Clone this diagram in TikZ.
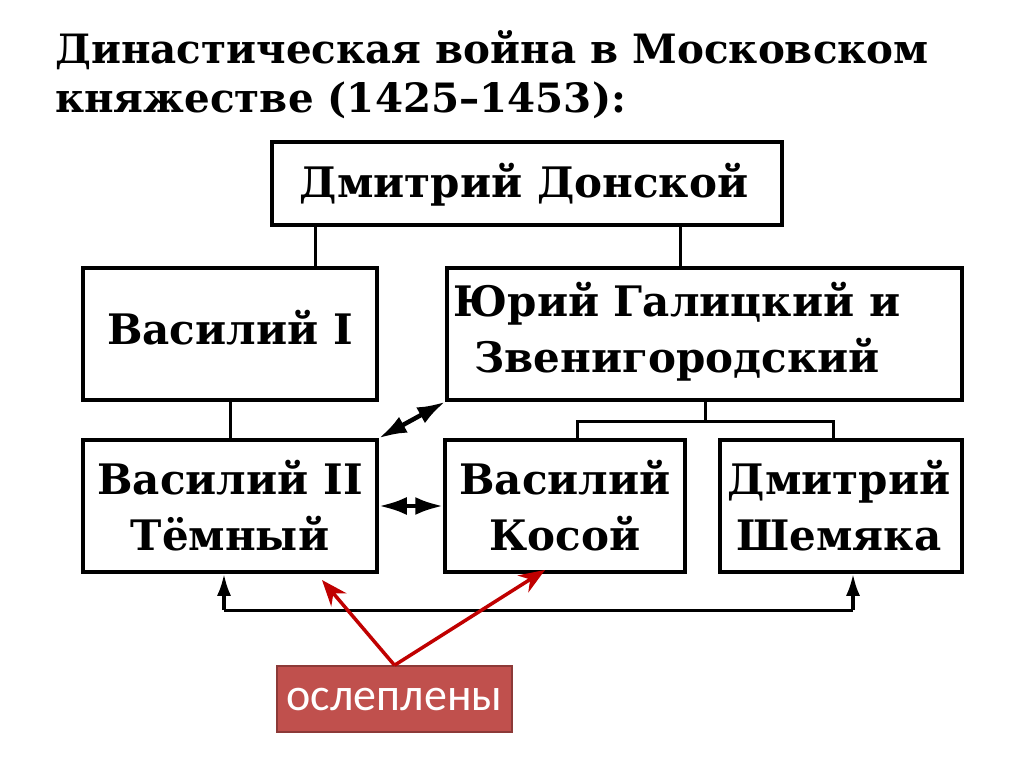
\documentclass[tikz,border=0pt]{standalone}
\usepackage{fontspec}
\setmainfont{DejaVu Serif}
\newfontfamily\redfont{Carlito}
\usetikzlibrary{arrows.meta}
\definecolor{boxred}{HTML}{C0504D}
\definecolor{boxredline}{HTML}{8C3A38}
\definecolor{arrowred}{HTML}{C00000}
\tikzset{
  famillybox/.style={draw=black, line width=3.5pt, minimum width=#1, inner sep=0pt},
  boxtext/.style={font=\fontsize{42}{56}\selectfont\bfseries, align=center, inner sep=0pt},
  titletext/.style={font=\fontsize{40.4}{48}\selectfont\bfseries, anchor=base west, inner sep=0pt},
  link/.style={line width=3pt},
  dbl/.style={line width=4.5pt, {Latex[length=28pt,width=18pt]}-{Latex[length=28pt,width=18pt]}},
  uparrow/.style={line width=3.5pt, -{Latex[length=22pt,width=14pt]}},
  redarrow/.style={draw=arrowred, line width=3.5pt, -{Stealth[length=26pt,width=20pt]}},
}
\begin{document}
\begin{tikzpicture}[x=1pt,y=-1pt]
\useasboundingbox (0,0) rectangle (1024,767);
\fill[white] (0,0) rectangle (1024,767);
% title
\node[titletext] (t1) at (55,64) {Династическая война в Московском};
\node[titletext] (t2) at (55,113) {княжестве (1425–1453):};
% boxes
\node[famillybox=510pt, minimum height=83pt] (dd) at (527,183.5) {};
\node[famillybox=294pt, minimum height=132pt] (v1) at (230,334) {};
\node[famillybox=515pt, minimum height=132pt] (yg) at (704.5,334) {};
\node[famillybox=294pt, minimum height=132pt] (v2) at (230,506) {};
\node[famillybox=240pt, minimum height=132pt] (vk) at (565,506) {};
\node[famillybox=242pt, minimum height=132pt] (ds) at (841,506) {};
% texts
\node[boxtext] at (524,185) {Дмитрий Донской};
\node[boxtext] at (230,328) {Василий I};
\node[boxtext] at (677,332) {Юрий Галицкий и\\Звенигородский};
\node[boxtext] at (230,506) {Василий II\\Тёмный};
\node[boxtext] at (565,506) {Василий\\Косой};
\node[boxtext] at (839,506) {Дмитрий\\Шемяка};
% red label
\node[fill=boxred, draw=boxredline, line width=1.5pt, minimum width=235pt, minimum height=66pt, inner sep=0pt,
  text=white, font=\redfont\fontsize{46}{50}\selectfont] (bl) at (394.5,699) {ослеплены};
% tree links
\draw[link] (dd.south -| 315,0) -- (v1.north -| 315,0);
\draw[link] (dd.south -| 680,0) -- (yg.north -| 680,0);
\draw[link] (v1.south) -- (v2.north);
\coordinate (fork) at (705,421);
\draw[link] (yg.south -| fork) -- (fork);
\draw[link] (vk.north -| 577,0) |- (fork) -| (ds.north -| 833,0);
% conflict arrows
\draw[dbl] (v2.north east) -- (yg.south west);
\draw[dbl] (v2.east) -- (vk.west);
\coordinate (bl1) at (224,610);
\coordinate (br1) at (853,610);
\draw[link] (bl1) -- (br1);
\draw[uparrow] (bl1) -- (v2.south -| bl1);
\draw[uparrow] (br1) -- (ds.south -| br1);
% red arrows
\coordinate (tip1) at (322,580);
\coordinate (tip2) at (545,570);
\draw[redarrow] (bl.north) -- (tip1);
\draw[redarrow] (bl.north) -- (tip2);
\end{tikzpicture}
\end{document}
